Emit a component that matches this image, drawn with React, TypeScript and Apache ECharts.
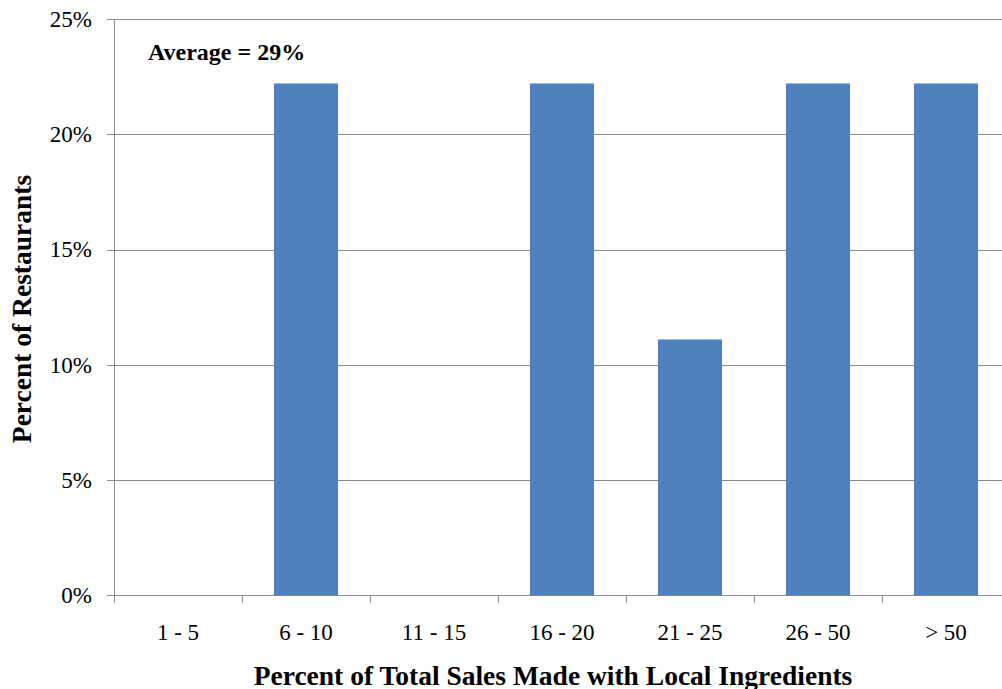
import React, { useEffect, useRef } from "react";
import * as echarts from "echarts";

// Share of restaurants by percent of total sales made with local ingredients
const categories = ["1 - 5", "6 - 10", "11 - 15", "16 - 20", "21 - 25", "26 - 50", "> 50"];
const shares = [0, 22.22, 0, 22.22, 11.11, 22.22, 22.22];
const yTicks = [0, 5, 10, 15, 20, 25];
const averageNote = "Average = 29%";
const xTitle = "Percent of Total Sales Made with Local Ingredients";
const yTitle = "Percent of Restaurants";

const FONT = "Liberation Serif";
const GRID_COLOR = "#8c8c8c";

export default function App() {
  const ref = useRef<HTMLDivElement>(null);

  useEffect(() => {
    if (!ref.current) return;
    const chart = echarts.init(ref.current, null, { renderer: "svg" });
    chart.setOption({
      animation: false,
      backgroundColor: "#ffffff",
      grid: {
        left: 114,
        top: 19.5,
        width: 896,
        height: 576,
        containLabel: false,
        outerBoundsMode: "none",
      },
      xAxis: {
        type: "category",
        data: categories,
        axisLine: { show: true, lineStyle: { color: GRID_COLOR, width: 1 } },
        axisTick: { show: true, alignWithLabel: false, length: 7, lineStyle: { color: GRID_COLOR } },
        axisLabel: { color: "#000", fontFamily: FONT, fontSize: 23, margin: 25 },
        splitLine: { show: false },
      },
      yAxis: {
        type: "value",
        min: yTicks[0],
        max: yTicks[yTicks.length - 1],
        interval: 5,
        axisLine: { show: true, lineStyle: { color: GRID_COLOR, width: 1 } },
        axisTick: { show: true, inside: false, length: 7, lineStyle: { color: GRID_COLOR } },
        axisLabel: {
          color: "#000",
          fontFamily: FONT,
          fontSize: 23,
          margin: 22,
          formatter: (v: number) => `${v}%`,
        },
        splitLine: { show: true, lineStyle: { color: GRID_COLOR, width: 1 } },
      },
      series: [
        {
          type: "bar",
          data: shares,
          barWidth: "50%",
          itemStyle: { color: "#4F81BD" },
        },
      ],
      graphic: [
        {
          type: "text",
          left: 148,
          top: 40,
          style: {
            text: averageNote,
            fontFamily: FONT,
            fontWeight: "bold",
            fontSize: 24,
            fill: "#000",
          },
        },
        {
          type: "text",
          x: 553,
          y: 675,
          style: {
            text: xTitle,
            fontFamily: FONT,
            fontWeight: "bold",
            fontSize: 27.5,
            fill: "#000",
            align: "center",
            verticalAlign: "middle",
          },
        },
        {
          type: "text",
          x: 21,
          y: 309,
          rotation: Math.PI / 2,
          style: {
            text: yTitle,
            fontFamily: FONT,
            fontWeight: "bold",
            fontSize: 27.5,
            fill: "#000",
            align: "center",
            verticalAlign: "middle",
          },
        },
      ],
    });
    return () => chart.dispose();
  }, []);

  return (
    <div
      ref={ref}
      style={{ position: "absolute", left: 0, top: 0, width: 1002, height: 689 }}
    />
  );
}
